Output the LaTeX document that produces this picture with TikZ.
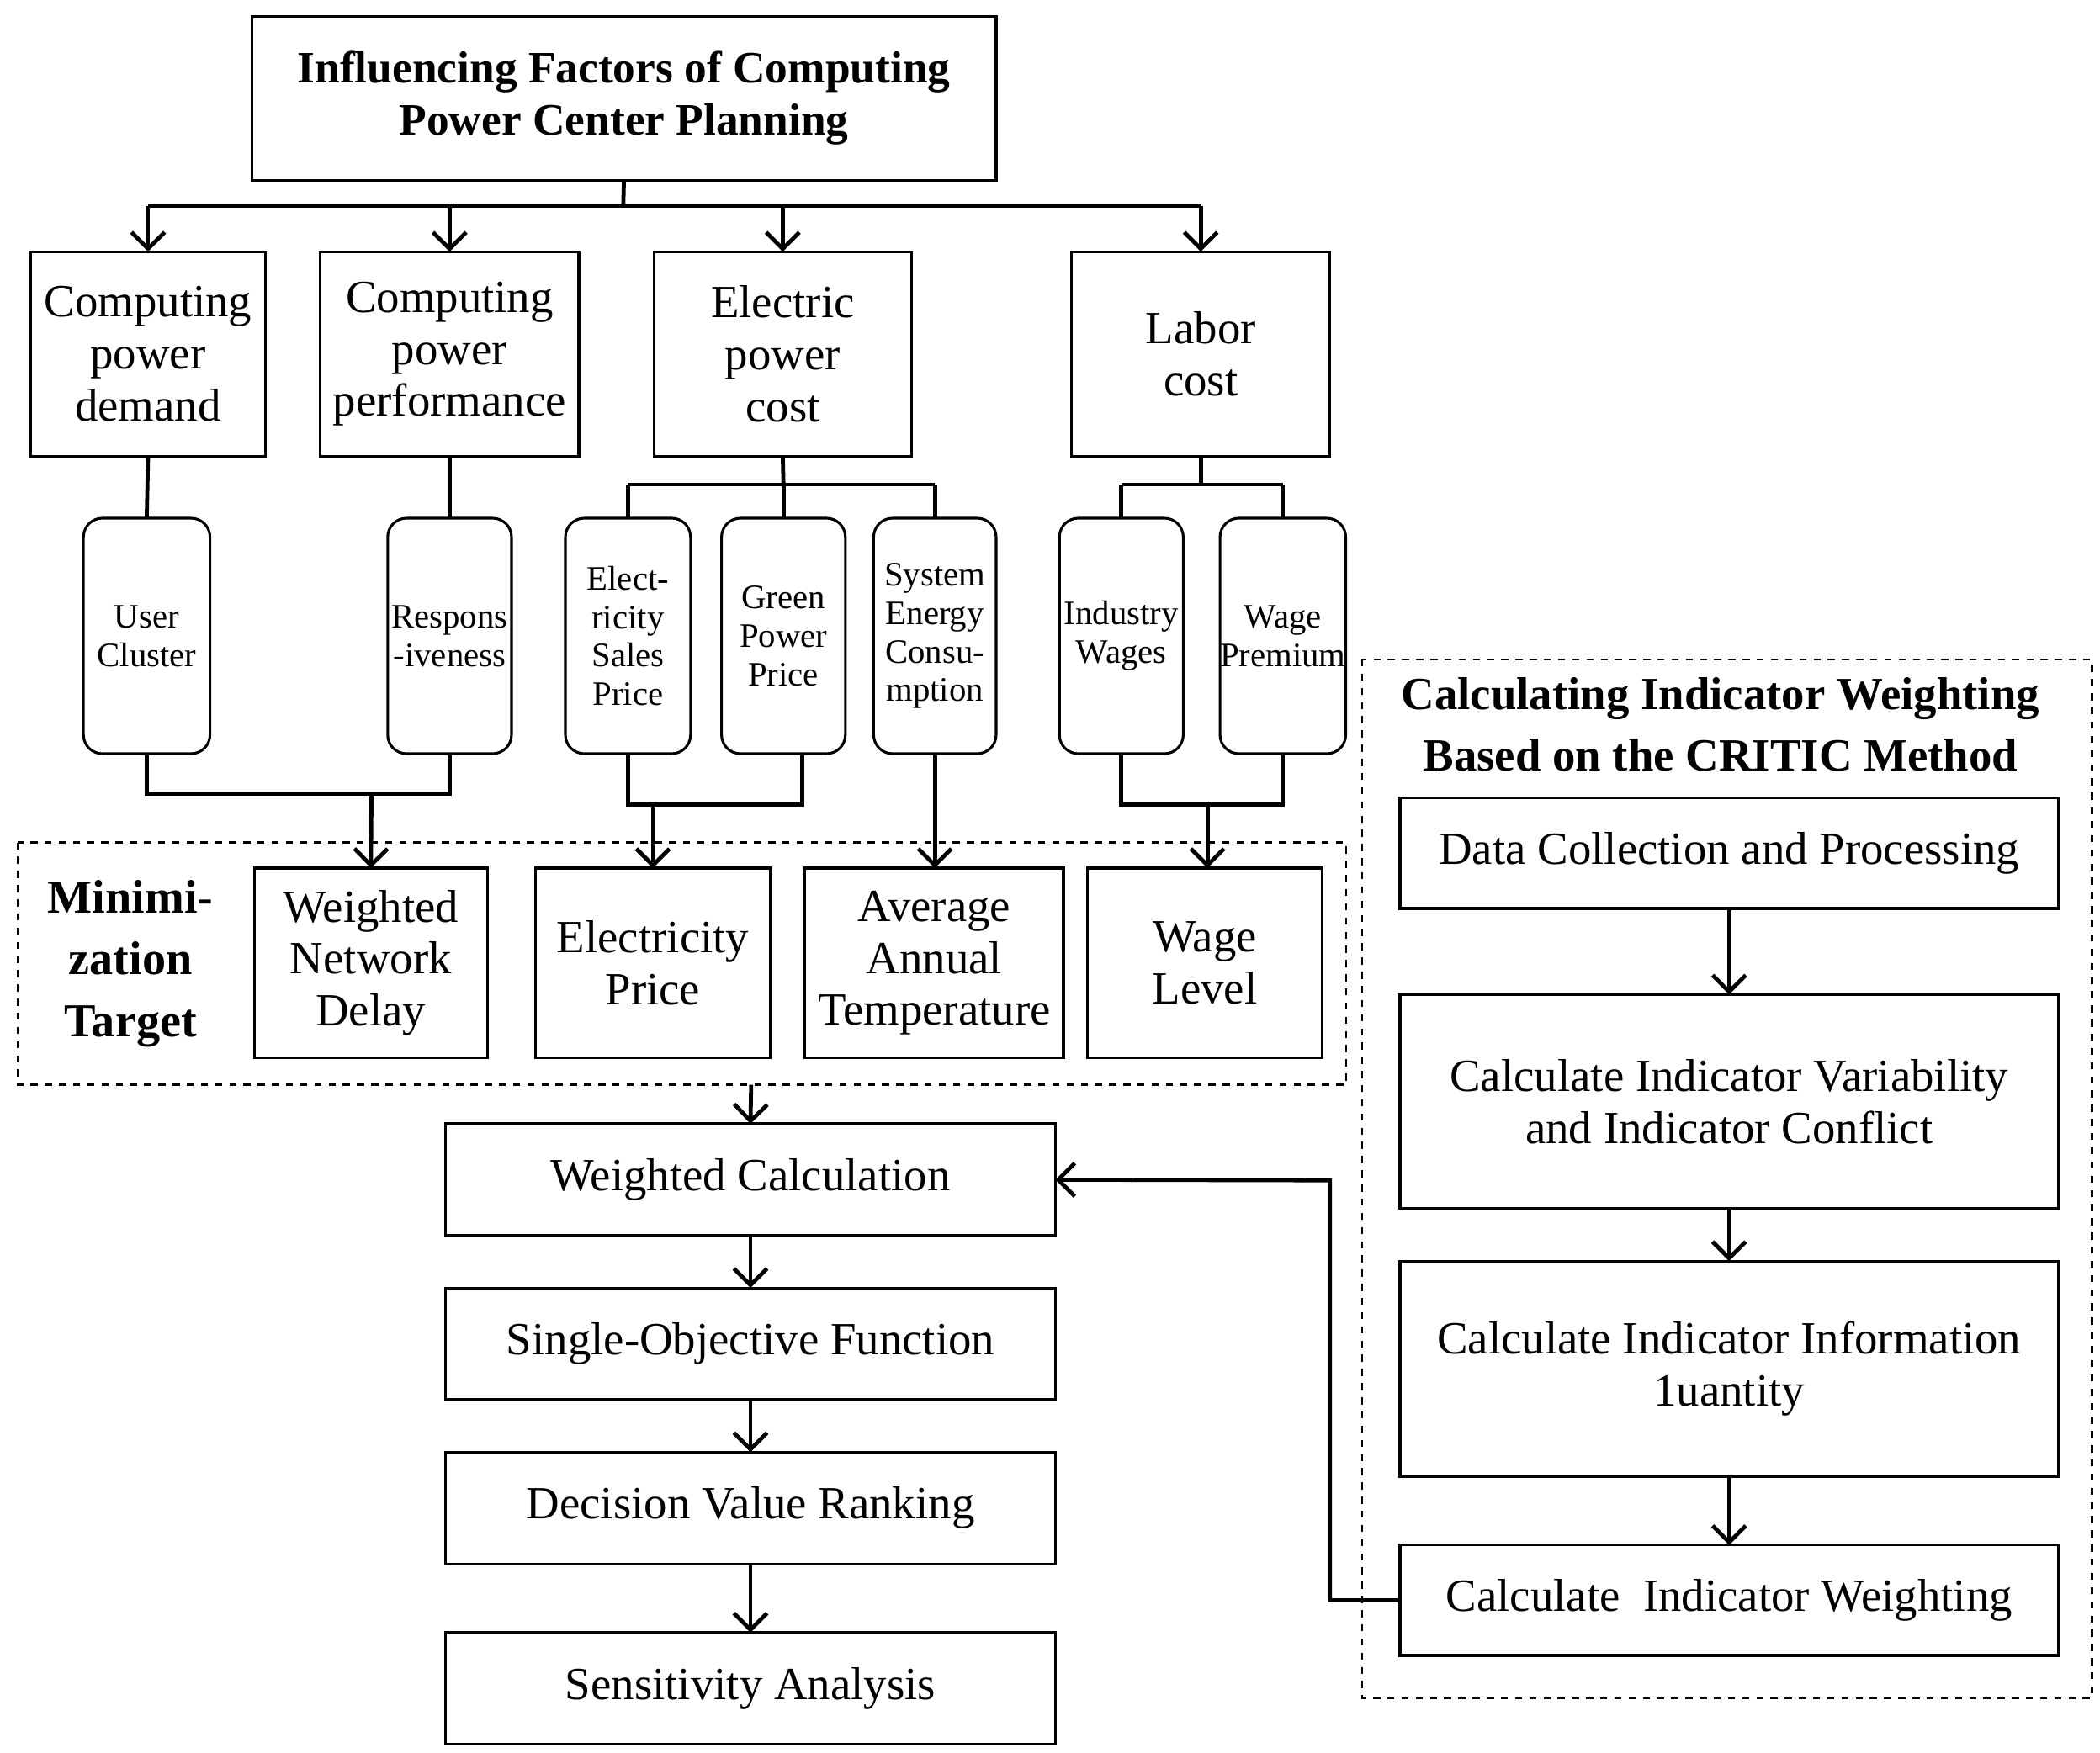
\documentclass[tikz,border=0pt]{standalone}
\usepackage{fontspec}
\setmainfont{Liberation Serif}
\usetikzlibrary{arrows.meta}
\begin{document}
\begin{tikzpicture}[x=0.02cm,y=-0.02cm,
  box/.style={draw,line width=1.1pt,inner sep=0pt,outer sep=0pt,align=center,font=\fontsize{19.5}{22}\selectfont},
  rbox/.style={box,rounded corners=8pt,font=\fontsize{14.5}{16.3}\selectfont},
  ln/.style={line width=1.7pt},
  arr/.style={ln,-{Straight Barb[length=7pt,width=14pt,line width=1.7pt]}},
  dbox/.style={draw,dashed,line width=0.8pt}]
\useasboundingbox (0,0) rectangle (1560,1302);
\newcommand\bx[7]{\node[#6, minimum width={(#4-#2)*0.02cm}, minimum height={(#5-#3)*0.02cm}] (#1) at ({(#2+#4)/2},{(#3+#5)/2}) {#7};}
\bx{title}{187}{12}{740}{134}{box,font=\fontsize{19}{22}\selectfont\bfseries}{Influencing Factors of Computing\\Power Center Planning}
\bx{A}{23}{187}{197}{339}{box}{Computing\\power\\demand}
\bx{B}{238}{187}{430}{339}{box}{Computing\\power\\performance}
\bx{C}{486}{187}{677}{339}{box}{Electric\\power\\cost}
\bx{D}{796}{187}{988}{339}{box}{Labor\\cost}
\bx{s1}{62}{385}{156}{560}{rbox}{User\\Cluster}
\bx{s2}{288}{385}{380}{560}{rbox}{Respons\\-iveness}
\bx{s3}{420}{385}{513}{560}{rbox}{Elect-\\ricity\\Sales\\Price}
\bx{s4}{536}{385}{628}{560}{rbox}{Green\\Power\\Price}
\bx{s5}{649}{385}{740}{560}{rbox}{System\\Energy\\Consu-\\mption}
\bx{s6}{787}{385}{879}{560}{rbox}{Industry\\Wages}
\bx{s7}{907}{385}{999}{560}{rbox}{Wage\\Premium}
\draw[dbox] (13,626) rectangle (1000,806);
\node[align=center,font=\fontsize{20}{26}\selectfont\bfseries] (mt) at (97,716) {Minimi-\\zation\\Target};
\bx{t1}{189}{645}{362}{786}{box}{Weighted\\Network\\Delay}
\bx{t2}{398}{645}{572}{786}{box}{Electricity\\Price}
\bx{t3}{598}{645}{790}{786}{box}{Average\\Annual\\Temperature}
\bx{t4}{808}{645}{982}{786}{box}{Wage\\Level}
\bx{p1}{331}{835}{784}{918}{box}{Weighted Calculation}
\bx{p2}{331}{957}{784}{1040}{box}{Single-Objective Function}
\bx{p3}{331}{1079}{784}{1162}{box}{Decision Value Ranking}
\bx{p4}{331}{1213}{784}{1296}{box}{Sensitivity Analysis}
\draw[dbox] (1012,490) rectangle (1554,1262);
\node[align=center,font=\fontsize{19.5}{26}\selectfont\bfseries] (rt) at (1278,538) {Calculating Indicator Weighting\\Based on the CRITIC Method};
\bx{r1}{1040}{593}{1529}{675}{box}{Data Collection and Processing}
\bx{r2}{1040}{739}{1529}{898}{box}{Calculate Indicator Variability\\and Indicator Conflict}
\bx{r3}{1040}{937}{1529}{1097}{box}{Calculate Indicator Information\\1uantity}
\bx{r4}{1040}{1148}{1529}{1230}{box}{Calculate\ \ Indicator Weighting}
% top tree
\coordinate (j1) at (463,153);
\draw[ln] (title.south) -- (j1);
\draw[ln] (A.north|-j1) -- (D.north|-j1);
\foreach \n in {A,B,C,D} \draw[arr] (\n.north|-j1) -- (\n.north);
\draw[ln] (A.south) -- (s1.north);
\draw[ln] (B.south) -- (s2.north);
\coordinate (jc) at (582,360);
\draw[ln] (C.south) -- (jc);
\draw[ln] (s3.north|-jc) -- (s5.north|-jc);
\foreach \n in {s3,s4,s5} \draw[ln] (\n.north|-jc) -- (\n.north);
\coordinate (jd) at (892,360);
\draw[ln] (D.south) -- (jd);
\draw[ln] (s6.north|-jd) -- (s7.north|-jd);
\foreach \n in {s6,s7} \draw[ln] (\n.north|-jd) -- (\n.north);
% bottom merges
\coordinate (b1) at (276,590);
\draw[ln] (s1.south) |- (b1) -| (s2.south);
\draw[arr] (b1) -- (t1.north);
\coordinate (b2) at (485,598);
\draw[ln] (s3.south) |- (b2) -| (596,560);
\draw[arr] (b2) -- (t2.north);
\draw[arr] (s5.south) -- (s5.south|-t3.north);
\coordinate (b4) at (897,598);
\draw[ln] (s6.south) |- (b4) -| (s7.south);
\draw[arr] (b4) -- (b4|-t4.north);
% process chain
\draw[arr] (558,806) -- (p1.north);
\draw[arr] (p1.south) -- (p2.north);
\draw[arr] (p2.south) -- (p3.north);
\draw[arr] (p3.south) -- (p4.north);
\draw[arr] (r1.south) -- (r2.north);
\draw[arr] (r2.south) -- (r3.north);
\draw[arr] (r3.south) -- (r4.north);
\draw[arr] (r4.west) -- (988,1189) -- (988,877) -- (p1.east);
\end{tikzpicture}
\end{document}
